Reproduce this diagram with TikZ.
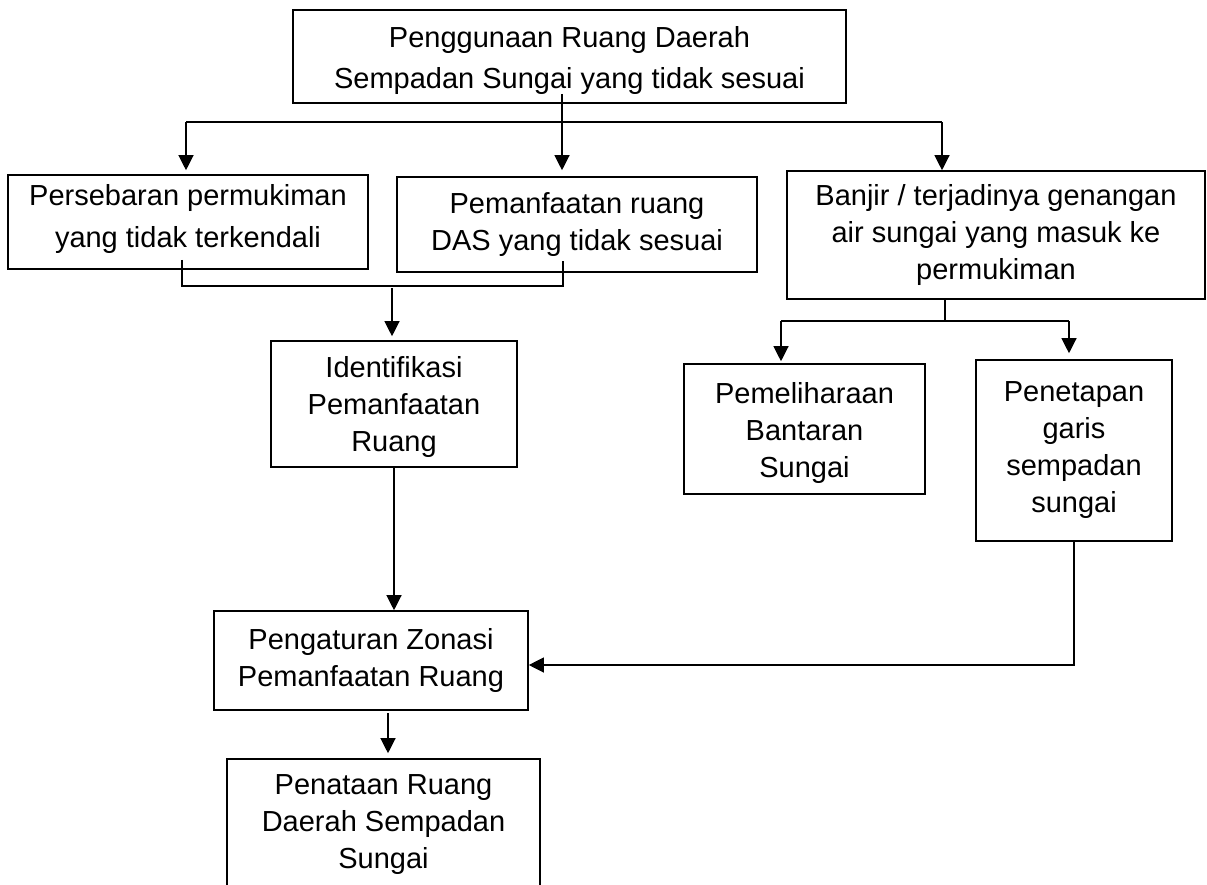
\documentclass[tikz,border=0pt]{standalone}
\usepackage{fontspec}
\setmainfont{Liberation Sans}
\usetikzlibrary{arrows.meta,calc}
\newcommand{\tup}[1]{\rule{0pt}{#1}}
\newcommand{\tdn}[1]{\rule[-#1]{0pt}{1pt}}
\begin{document}
\begin{tikzpicture}[x=1pt,y=-1pt,
  box/.style={draw, line width=1.6pt, inner sep=0pt, align=center,
    font=\fontsize{29pt}{37pt}\selectfont},
  conn/.style={line width=1.2pt},
  arr/.style={line width=1.2pt, -{Triangle[length=15pt,width=15pt]}}]
\useasboundingbox (0,0) rectangle (1207,884);
\clip (0,0) rectangle (1207,884);
% boxes
\node[box, minimum width=553pt, minimum height=93pt, font=\fontsize{29pt}{41pt}\selectfont] (top) at (569.5,56.5)
  {\tup{29.8pt}Penggunaan Ruang Daerah\\Sempadan Sungai yang tidak sesuai};
\node[box, minimum width=360pt, minimum height=94pt, font=\fontsize{29pt}{42pt}\selectfont] (pers) at (188,222)
  {Persebaran permukiman\\yang tidak terkendali\tdn{12pt}};
\node[box, minimum width=360pt, minimum height=95pt] (pem) at (577,224.5)
  {Pemanfaatan ruang\\DAS yang tidak sesuai};
\node[box, minimum width=418pt, minimum height=128pt] (banjir) at (996,235)
  {Banjir / terjadinya genangan\\air sungai yang masuk ke\\permukiman};
\node[box, minimum width=246pt, minimum height=126pt] (ident) at (394,404)
  {\tup{27.8pt}Identifikasi\\Pemanfaatan\\Ruang};
\node[box, minimum width=241pt, minimum height=130pt] (pemel) at (804.5,429)
  {\tup{29.8pt}Pemeliharaan\\Bantaran\\Sungai};
\node[box, minimum width=196pt, minimum height=181pt] (penet) at (1074,450.5)
  {Penetapan\\garis\\sempadan\\sungai};
\node[box, minimum width=314pt, minimum height=99pt] (pengat) at (371,660.5)
  {Pengaturan Zonasi\\Pemanfaatan Ruang};
\node[box, minimum width=313pt, minimum height=131pt] (penat) at (383.5,824.5)
  {Penataan Ruang\\Daerah Sempadan\\Sungai};
% junction coordinates
\coordinate (t1) at (562,122);
\coordinate (hL) at (186,122);
\coordinate (hR) at (942,122);
\coordinate (m1) at (182,286);
\coordinate (m2) at (563,286);
\coordinate (m3) at (392,288);
\coordinate (b1) at (945,321);
\coordinate (bL) at (781,321);
\coordinate (bR) at (1069,321);
\coordinate (k1) at (388,713);
\coordinate (f1) at (1074,665);
% connectors from top box
\draw[conn, shorten <=-10pt] (top.south -| t1) -- (t1);
\draw[conn] (hL) -- (hR);
\draw[arr, shorten >=4pt] (hL) -- (hL |- pers.north);
\draw[arr, shorten >=6pt] (t1) -- (t1 |- pem.north);
\draw[arr] (hR) -- (hR |- banjir.north);
% merge to identifikasi
\draw[conn, shorten <=-10pt, shorten >=-12pt] (pers.south -| m1) -- (m1) -- (m2) -- (pem.south -| m2);
\draw[arr, shorten >=4pt] (m3) -- (m3 |- ident.north);
% identifikasi to pengaturan
\draw[arr] (ident.south) -- (ident.south |- pengat.north);
% pengaturan to penataan
\draw[arr, shorten >=5pt] (k1) -- (k1 |- penat.north);
% banjir split
\draw[conn] (banjir.south -| b1) -- (b1);
\draw[conn] (bL) -- (bR);
\draw[arr, shorten >=2pt] (bL) -- (bL |- pemel.north);
\draw[arr, shorten >=6pt] (bR) -- (bR |- penet.north);
% feedback
\draw[arr] (penet.south) -- (f1) -- (f1 -| pengat.east);
\end{tikzpicture}
\end{document}
